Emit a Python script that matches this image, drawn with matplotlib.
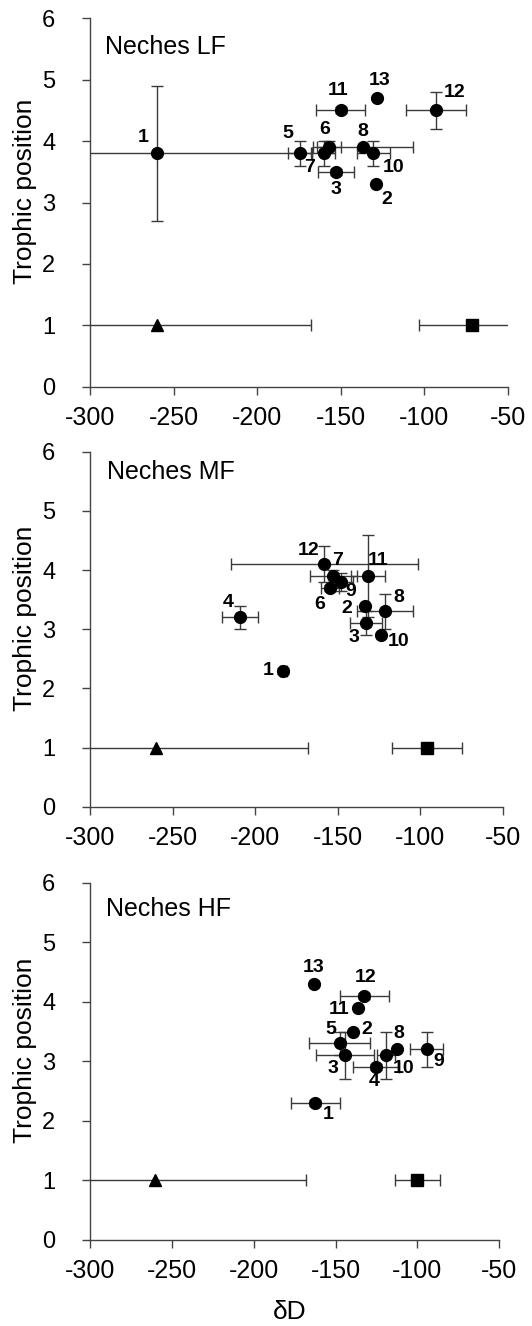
import matplotlib.pyplot as plt

plt.rcParams['font.family'] = ['Liberation Sans', 'DejaVu Sans']
plt.rcParams['axes.unicode_minus'] = False

# ---- Neches LF ----
lf_ids = ['1', '2', '3', '5', '6', '7', '8', '10', '11', '12', '13']
lf_x = [-260, -128.8, -152.8, -174.3, -156.8, -160.2, -136.8, -130.4, -150, -92.9, -128]
lf_y = [3.8, 3.3, 3.5, 3.8, 3.9, 3.8, 3.9, 3.8, 4.5, 4.5, 4.7]
lf_xerr = [92, 0, 11, 7, 7.3, 7, 30, 9.7, 14.5, 17.7, 0]
lf_yerr = [1.1, 0, 0.05, 0.2, 0.1, 0.2, 0, 0.2, 0.05, 0.3, 0]
lf_tri = (-260, 1.0, 92)
lf_sq = (-71.6, 1.0, 31.5)

# ---- Neches MF ----
mf_ids = ['1', '2', '3', '4', '6', '7', '8', '9', '10', '11', '12']
mf_x = [-182.9, -133.4, -132.8, -209.1, -154.6, -152.6, -121.3, -147.9, -123.7, -131.4, -158.0]
mf_y = [2.3, 3.4, 3.1, 3.2, 3.7, 3.9, 3.3, 3.8, 2.9, 3.9, 4.1]
mf_xerr = [2, 0, 9.6, 11, 5.7, 14.3, 17, 7, 0, 10.4, 56.4]
mf_yerr = [0.05, 0, 0.2, 0.2, 0.05, 0.1, 0.3, 0.15, 0, 0.7, 0.3]
mf_tri = (-260, 1.0, 92)
mf_sq = (-96.0, 1.0, 21.2)

# ---- Neches HF ----
hf_ids = ['1', '2', '3', '4', '5', '8', '9', '10', '11', '12', '13']
hf_x = [-162.4, -139.4, -144.3, -125.3, -147.5, -112.7, -94.4, -119.4, -136.1, -132.4, -163.2]
hf_y = [2.3, 3.5, 3.1, 2.9, 3.3, 3.2, 3.2, 3.1, 3.9, 4.1, 4.3]
hf_xerr = [15, 0, 17.8, 14, 18.7, 0, 10.2, 5.6, 0, 15.2, 0]
hf_yerr = [0.05, 0, 0.4, 0.05, 0.2, 0, 0.3, 0.4, 0, 0.05, 0]
hf_tri = (-260, 1.0, 92)
hf_sq = (-100.1, 1.0, 13.8)

titles = ['Neches LF', 'Neches MF', 'Neches HF']
xticks = [-300, -250, -200, -150, -100, -50]
yticks = [0, 1, 2, 3, 4, 5, 6]

# label offsets (points) for the numbers next to each point
lf_off = [(-10, 11.5), (7.7, -11), (0, -12.5), (-9, 14), (-3, 12.5), (-10, -10.5),
          (0, 11.5), (14.4, -10), (-1.7, 14.4), (13.7, 13), (1.9, 12.7)]
mf_off = [(-11, 0), (-13, -2), (-8.6, -10), (-8.4, 10.8), (-7.2, -12), (2.9, 10.8),
          (9.6, 10.3), (7, -6.7), (12.5, -4.6), (7.2, 10.8), (-11.5, 10.1)]
hf_off = [(9.4, -8.4), (9.8, 1.2), (-8.4, -9.1), (-1.4, -10.5), (-6.5, 9.8), (1.9, 11.8),
          (9.1, -8.6), (12.7, -9.1), (-13.7, -1.4), (0.5, 13), (-0.5, 11.5)]

panels = [
    (lf_ids, lf_x, lf_y, lf_xerr, lf_yerr, lf_tri, lf_sq, lf_off),
    (mf_ids, mf_x, mf_y, mf_xerr, mf_yerr, mf_tri, mf_sq, mf_off),
    (hf_ids, hf_x, hf_y, hf_xerr, hf_yerr, hf_tri, hf_sq, hf_off),
]

W, H = 532, 1326
# axes boxes in pixels: left, top, right, bottom
boxes = [(90, 18.3, 507.7, 386.7), (90, 451.7, 502.7, 806.7), (90, 882.7, 499.3, 1240)]
title_pos = [(0.036, 0.923), (0.040, 0.944), (0.040, 0.925)]

fig = plt.figure(figsize=(W / 100, H / 100), dpi=100)
ecol = '#3a3a3a'

for i, (ids, x, y, xe, ye, tri, sq, off) in enumerate(panels):
    l, t, r, b = boxes[i]
    ax = fig.add_axes([l / W, 1 - b / H, (r - l) / W, (b - t) / H])
    ax.errorbar(x, y, xerr=xe, yerr=ye, fmt='o', color='black', ms=8.5,
                ecolor=ecol, elinewidth=1, capsize=4, capthick=1, zorder=3)
    ax.errorbar([tri[0]], [tri[1]], xerr=[tri[2]], fmt='^', color='black', ms=8.5,
                ecolor=ecol, elinewidth=1, capsize=4, capthick=1, zorder=3)
    ax.errorbar([sq[0]], [sq[1]], xerr=[sq[2]], fmt='s', color='black', ms=8,
                ecolor=ecol, elinewidth=1, capsize=4, capthick=1, zorder=3)
    for lab, xi, yi, o in zip(ids, x, y, off):
        ax.annotate(lab, (xi, yi), xytext=o, textcoords='offset points',
                    ha='center', va='center', fontsize=14, fontweight='bold')
    ax.text(title_pos[i][0], title_pos[i][1], titles[i], transform=ax.transAxes,
            ha='left', va='center', fontsize=18)

    ax.set_xlim(-300, -50)
    ax.set_ylim(0, 6)
    ax.set_xticks(xticks)
    ax.set_yticks(yticks)
    ax.spines['top'].set_visible(False)
    ax.spines['right'].set_visible(False)
    for s in ['left', 'bottom']:
        ax.spines[s].set_color('#444444')
        ax.spines[s].set_linewidth(1)
    ax.tick_params(axis='x', direction='out', length=6, width=1, color='#444444',
                   labelsize=18, pad=8)
    ax.tick_params(axis='y', direction='out', length=6, width=1, color='#444444',
                   labelsize=17, pad=19)
    ax.set_ylabel('Trophic position', fontsize=19)
    ax.yaxis.set_label_coords((37 - l) / (r - l), 0.53)
    if i == 2:
        ax.set_xlabel('δD', fontsize=19)
        ax.xaxis.set_label_coords((290 - l) / (r - l), -0.168)

fig.savefig('out.png', dpi=100)
